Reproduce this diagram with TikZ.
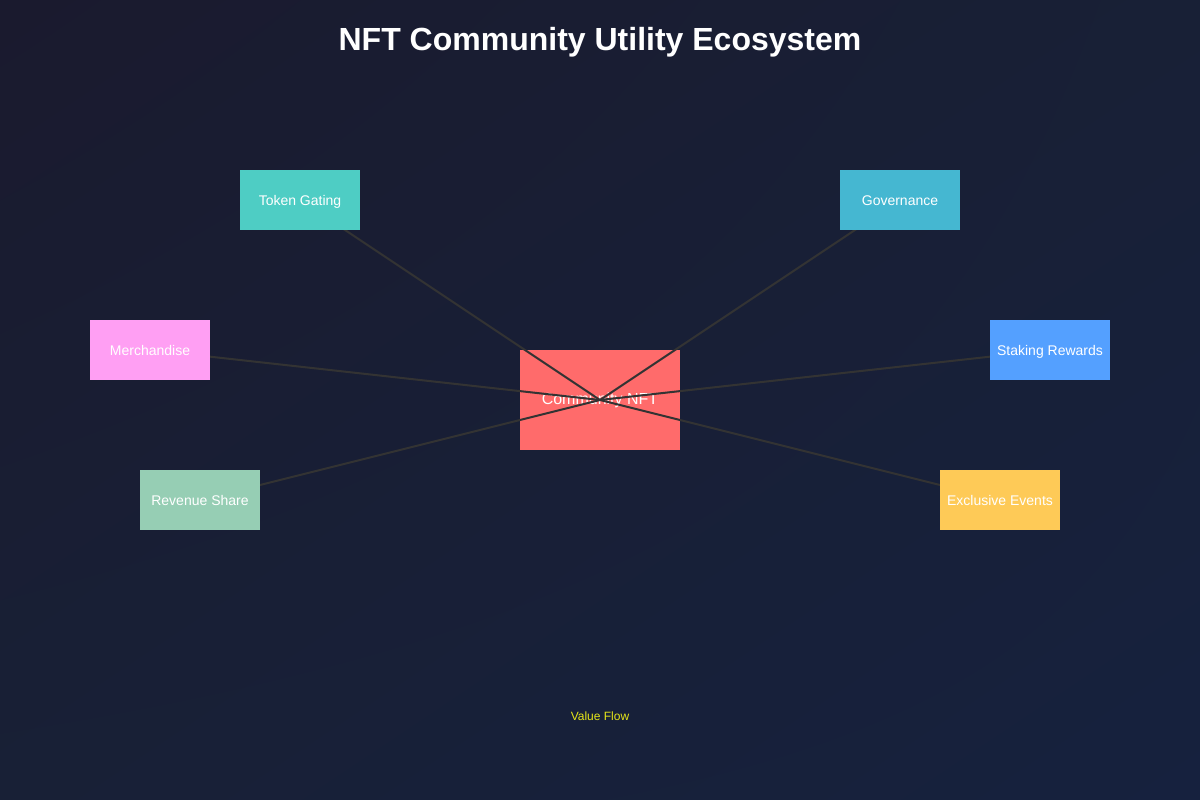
\documentclass[tikz,border=0pt]{standalone}
\usepackage{fontspec}
\setmainfont{Liberation Sans}
\usetikzlibrary{shadings}
\definecolor{bgA}{HTML}{1A1A2E}
\definecolor{bgB}{HTML}{16213E}
\definecolor{bgM}{HTML}{182036}
\definecolor{cNFT}{HTML}{FF6B6B}
\definecolor{cTok}{HTML}{4ECDC4}
\definecolor{cGov}{HTML}{45B7D1}
\definecolor{cMer}{HTML}{FF9FF3}
\definecolor{cStk}{HTML}{54A0FF}
\definecolor{cRev}{HTML}{96CEB4}
\definecolor{cEvt}{HTML}{FECA57}
\definecolor{link}{HTML}{333333}
\definecolor{flow}{HTML}{E6E619}
\tikzset{
  util/.style={rectangle, minimum width=120pt, minimum height=60pt, inner sep=0pt,
    text=white, text height=10pt, text depth=0pt, font=\fontsize{14pt}{16pt}\selectfont},
  hub/.style={rectangle, fill=cNFT, minimum width=160pt, minimum height=100pt, inner sep=0pt,
    text=white, font=\fontsize{16pt}{18pt}\selectfont},
  linkline/.style={draw=link, line width=2pt},
}
\begin{document}
\begin{tikzpicture}[x=1pt,y=-1pt]
\useasboundingbox (0,0) rectangle (1200,800);
\shade[upper left=bgA, lower right=bgB, upper right=bgM, lower left=bgM] (0,0) rectangle (1200,800);
\node[font=\bfseries\fontsize{32pt}{36pt}\selectfont, text=white] (title) at (600,42) {NFT Community Utility Ecosystem};
\node[hub] (nft) at (600,400) {Community NFT};
\coordinate (tokc) at (300,200);
\coordinate (govc) at (900,200);
\coordinate (merc) at (150,350);
\coordinate (stkc) at (1050,350);
\coordinate (revc) at (200,500);
\coordinate (evtc) at (1000,500);
\foreach \c in {tokc,govc,merc,stkc,revc,evtc}
  \draw[linkline] (\c) -- (nft.center);
\node[util, fill=cTok] (tok) at (tokc) {Token Gating};
\node[util, fill=cGov] (gov) at (govc) {Governance};
\node[util, fill=cMer] (mer) at (merc) {Merchandise};
\node[util, fill=cStk] (stk) at (stkc) {Staking Rewards};
\node[util, fill=cRev] (rev) at (revc) {Revenue Share};
\node[util, fill=cEvt] (evt) at (evtc) {Exclusive Events};
\node[text=flow, font=\fontsize{12pt}{14pt}\selectfont] (vf) at (600,716) {Value Flow};
\end{tikzpicture}
\end{document}
